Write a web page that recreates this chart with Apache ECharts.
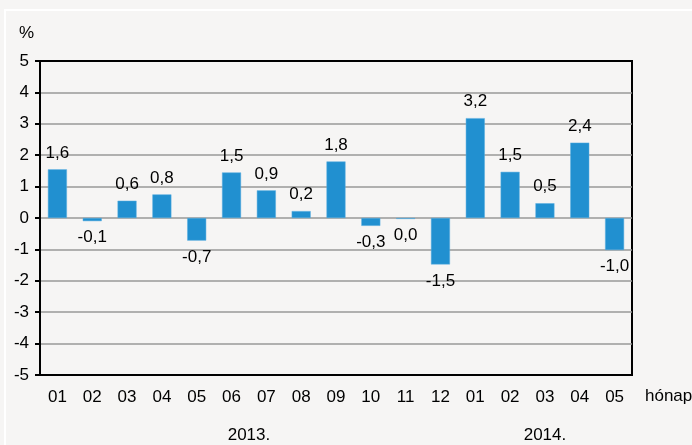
<!DOCTYPE html>
<html>
<head>
<meta charset="utf-8">
<script src="https://cdn.jsdelivr.net/npm/echarts@6/dist/echarts.min.js"></script>
<style>
  html, body { margin: 0; padding: 0; background: #f6f5f4; }
  #main { width: 692px; height: 445px; }
</style>
</head>
<body>
<div id="main"></div>
<script>
var months = ['01', '02', '03', '04', '05', '06', '07', '08', '09', '10', '11', '12', '01', '02', '03', '04', '05'];
var values = [1.55, -0.1, 0.55, 0.75, -0.72, 1.45, 0.88, 0.22, 1.8, -0.25, -0.03, -1.48, 3.18, 1.47, 0.47, 2.4, -1.02];
var labels = ['1,6', '-0,1', '0,6', '0,8', '-0,7', '1,5', '0,9', '0,2', '1,8', '-0,3', '0,0', '-1,5', '3,2', '1,5', '0,5', '2,4', '-1,0'];
var years = [{ name: '2013.', from: 0, to: 11 }, { name: '2014.', from: 12, to: 16 }];
var yTicks = [-5, -4, -3, -2, -1, 0, 1, 2, 3, 4, 5];

var font = '"Liberation Sans", Arial, sans-serif';
var chartDom = document.getElementById('main');
var myChart = echarts.init(chartDom);

// split line colours: outer lines (-5 and 5) black, the rest grey
var splitColors = yTicks.map(function (t) { return (t === -5 || t === 5) ? '#000' : '#999'; });

var option = {
  backgroundColor: '#f6f5f4',
  animation: false,
  grid: {
    left: 40, right: 60, top: 61, bottom: 70,
    show: true,
    borderColor: '#000',
    borderWidth: 2,
    backgroundColor: 'transparent'
  },
  xAxis: {
    type: 'category',
    data: months,
    axisLine: { show: false, onZero: false },
    axisTick: { show: false },
    axisLabel: { color: '#000', fontSize: 17, fontFamily: font, margin: 14 }
  },
  yAxis: {
    type: 'value',
    min: -5, max: 5, interval: 1,
    name: '%',
    nameGap: 19,
    nameTextStyle: { color: '#000', fontSize: 17, fontFamily: font, align: 'right', padding: [0, 6, 0, 0] },
    axisLine: { show: true, lineStyle: { color: '#000', width: 2 } },
    axisTick: { show: true, inside: false, length: 5, lineStyle: { color: '#000', width: 2 } },
    axisLabel: { color: '#000', fontSize: 17, fontFamily: font, margin: 11 },
    splitLine: { show: true, lineStyle: { color: splitColors, width: 1.5 } }
  },
  series: [{
    type: 'bar',
    data: values.map(function (v) {
      return {
        value: v,
        label: { position: v < 0 ? 'bottom' : 'top' }
      };
    }),
    barWidth: 19,
    itemStyle: { color: '#2190d0', borderColor: '#5aaee0', borderWidth: 0.5 },
    label: {
      show: true,
      color: '#000',
      fontSize: 17,
      fontFamily: font,
      distance: 8,
      formatter: function (p) { return labels[p.dataIndex]; }
    }
  }]
};

option && myChart.setOption(option);

// year captions and the unit under the month labels
var g = [
  {
    type: 'rect',
    shape: { x: 5, y: 10, width: 700, height: 440 },
    style: { fill: 'none', stroke: '#fff', lineWidth: 2 },
    silent: true
  },
  {
    type: 'text',
    left: 645, top: 388,
    style: { text: 'hónap', fill: '#000', font: '17px ' + font }
  }
];
years.forEach(function (y) {
  var a = myChart.convertToPixel({ xAxisIndex: 0 }, y.from);
  var b = myChart.convertToPixel({ xAxisIndex: 0 }, y.to);
  g.push({
    type: 'text',
    x: (a + b) / 2, y: 435,
    style: { text: y.name, fill: '#000', font: '17px ' + font, align: 'center', verticalAlign: 'middle' }
  });
});
myChart.setOption({ graphic: g });
</script>
</body>
</html>
